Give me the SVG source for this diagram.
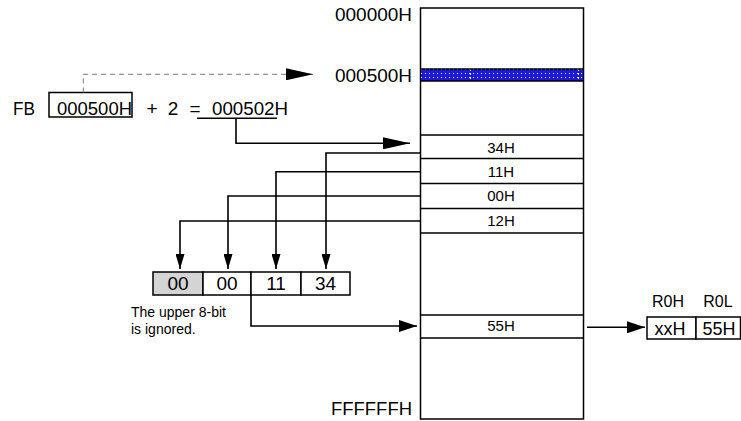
<svg xmlns="http://www.w3.org/2000/svg" width="741" height="421" viewBox="0 0 741 421">
<style>
text{font-family:"Liberation Sans",Arial,sans-serif;fill:#000}
.ln{fill:none;stroke:#000;stroke-width:1.5}
.cn{fill:none;stroke:#000;stroke-width:1.6}
.dash{fill:none;stroke:#777;stroke-width:1;stroke-dasharray:5,4}
.addr{font-size:18px;text-anchor:end}
.cell{font-size:15px;text-anchor:middle}
.fb{font-size:19px}
.byte{font-size:19px;text-anchor:middle}
.note{font-size:14px}
.reg{font-size:16px;text-anchor:middle}
.regv{font-size:18px;text-anchor:middle}
</style>
<defs>
<pattern id="dots" width="4" height="4" patternUnits="userSpaceOnUse">
<rect width="4" height="4" fill="#1a1ad8"/>
<rect x="1" y="1" width="1" height="1" fill="#ffffff"/>
</pattern>
<marker id="aL" markerUnits="userSpaceOnUse" markerWidth="27" markerHeight="12" refX="27" refY="6" orient="auto">
<path d="M0,0 L27,6 L0,12 Z" fill="#000"/>
</marker>
<marker id="aS" markerUnits="userSpaceOnUse" markerWidth="18" markerHeight="12" refX="18" refY="6" orient="auto">
<path d="M0,0 L18,6 L0,12 Z" fill="#000"/>
</marker>
<marker id="aD" markerUnits="userSpaceOnUse" markerWidth="15" markerHeight="9" refX="15" refY="4.5" orient="auto">
<path d="M0,0 L15,4.5 L0,9 Z" fill="#000"/>
</marker>
</defs>

<g id="memory">
<rect x="420.5" y="8" width="163" height="411" fill="#fff" stroke="#000" stroke-width="1.5"/>
<rect id="band" x="421" y="69" width="162" height="12" fill="url(#dots)"/>
<line x1="470.5" y1="69" x2="470.5" y2="81" stroke="#fff" stroke-width="1" stroke-dasharray="2,2"/>
<line x1="578.5" y1="69" x2="578.5" y2="81" stroke="#fff" stroke-width="1" stroke-dasharray="2,2"/>
<path class="ln" d="M420.5,69 H583.5 M420.5,81 H583.5 M420.5,135 H583.5 M420.5,158.5 H583.5 M420.5,183.5 H583.5 M420.5,208.5 H583.5 M420.5,233 H583.5 M420.5,315 H583.5 M420.5,338 H583.5"/>
<text class="cell" x="501" y="152.5">34H</text>
<text class="cell" x="501" y="176.5">11H</text>
<text class="cell" x="501" y="201">00H</text>
<text class="cell" x="501" y="225.5">12H</text>
<text class="cell" x="501" y="331">55H</text>
</g>

<g id="addresses">
<text class="addr" x="412" y="21" textLength="77" lengthAdjust="spacingAndGlyphs">000000H</text>
<text class="addr" x="412" y="81.5" textLength="77" lengthAdjust="spacingAndGlyphs">000500H</text>
<text class="addr" x="412" y="415" textLength="81" lengthAdjust="spacingAndGlyphs">FFFFFFH</text>
</g>

<g id="formula">
<text class="fb" x="13" y="114.5" textLength="22" lengthAdjust="spacingAndGlyphs">FB</text>
<rect x="49" y="92.5" width="83" height="24.5" fill="none" stroke="#000" stroke-width="1.5"/>
<text class="fb" x="57" y="114.5" textLength="75" lengthAdjust="spacingAndGlyphs">000500H</text>
<text class="fb" x="152" y="114.5" text-anchor="middle">+</text>
<text class="fb" x="173" y="114.5" text-anchor="middle">2</text>
<text class="fb" x="195" y="114.5" text-anchor="middle">=</text>
<text class="fb" x="212" y="114.5" textLength="76" lengthAdjust="spacingAndGlyphs">000502H</text>
<line x1="197" y1="118.3" x2="277" y2="118.3" stroke="#000" stroke-width="1.5"/>
</g>

<g id="bytes">
<rect x="153" y="272" width="50" height="23" fill="#d4d4d4" stroke="#000" stroke-width="1.5"/>
<rect x="203" y="272" width="48" height="23" fill="#fff" stroke="#000" stroke-width="1.5"/>
<rect x="251" y="272" width="50" height="23" fill="#fff" stroke="#000" stroke-width="1.5"/>
<rect x="301" y="272" width="49" height="23" fill="#fff" stroke="#000" stroke-width="1.5"/>
<text class="byte" x="178" y="290">00</text>
<text class="byte" x="227" y="290">00</text>
<text class="byte" x="276" y="290">11</text>
<text class="byte" x="325.5" y="290">34</text>
</g>

<g id="note">
<text class="note" x="131" y="317">The upper 8-bit</text>
<text class="note" x="131" y="334">is ignored.</text>
</g>

<g id="register">
<text class="reg" x="668" y="307">R0H</text>
<text class="reg" x="718" y="307">R0L</text>
<rect x="647" y="317" width="49" height="22" fill="#fff" stroke="#000" stroke-width="1.5"/>
<rect x="696" y="317" width="44.5" height="22" fill="#fff" stroke="#000" stroke-width="1.5"/>
<text class="regv" x="670" y="334.5">xxH</text>
<text class="regv" x="719" y="334.5">55H</text>
</g>

<g id="connectors">
<path class="dash" d="M83.3,92.5 V74.3 H313" marker-end="url(#aL)"/>
<path class="cn" d="M236,118.3 V143.3 H410" marker-end="url(#aL)"/>
<path class="cn" d="M420.5,153 H326 V269" marker-end="url(#aD)"/>
<path class="cn" d="M420.5,171.7 H276 V269" marker-end="url(#aD)"/>
<path class="cn" d="M420.5,196 H228 V269" marker-end="url(#aD)"/>
<path class="cn" d="M420.5,221 H180 V269" marker-end="url(#aD)"/>
<path class="cn" d="M251,295 V326 H417" marker-end="url(#aS)"/>
<path class="cn" d="M587,327.3 H645" marker-end="url(#aS)"/>
</g>
</svg>
